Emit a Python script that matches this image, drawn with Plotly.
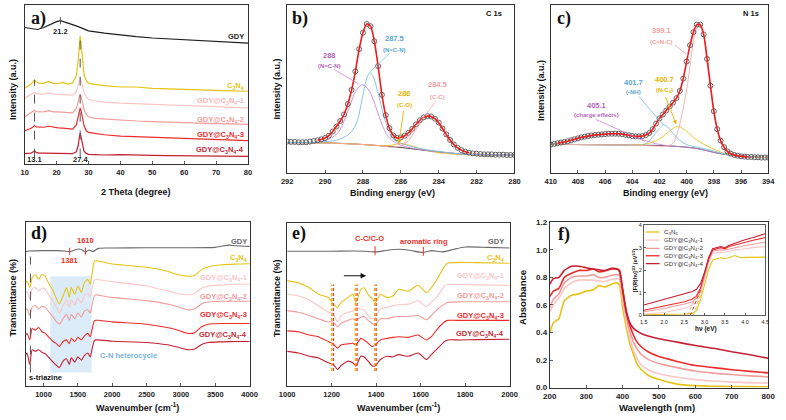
import plotly.graph_objects as go

W, H = 786, 420
FONT = "Liberation Sans, Arial, sans-serif"
SERIF = "Liberation Serif, Times New Roman, serif"

COL_GDY = "#1e1e1e"
COL_GDY2 = "#6a6a6a"
COL_CN = "#e6c417"
COL_1 = "#fbc6c6"
COL_2 = "#f29c9c"
COL_3 = "#ec2c2c"
COL_4 = "#c41f33"
SER_COLS = [COL_CN, COL_1, COL_2, COL_3, COL_4]
SER_NAMES = ["C<sub>3</sub>N<sub>4</sub>", "GDY@C<sub>3</sub>N<sub>4</sub>-1", "GDY@C<sub>3</sub>N<sub>4</sub>-2",
             "GDY@C<sub>3</sub>N<sub>4</sub>-3", "GDY@C<sub>3</sub>N<sub>4</sub>-4"]

# ---------------- (a) XRD ----------------
xrd_gdy_theta = [10, 12, 14, 16, 18, 20, 21.2, 23, 25, 27, 30, 35, 40, 45, 50, 55, 60, 65, 70, 75, 80]
xrd_gdy = [416, 412, 410, 416, 426, 434, 437, 432, 425, 418, 406, 399, 393, 388, 384, 381, 378, 376, 373, 371, 368]
xrd_theta = [10, 11, 12, 12.6, 13.1, 13.6, 14.5, 16, 17.5, 19, 20.5, 22, 23.5, 25, 26.2, 26.8, 27.1, 27.4, 27.7,
             28.1, 28.6, 29.3, 30, 32, 35, 40, 45, 50, 55, 60, 65, 70, 75, 80]
xrd_cn = [230, 236, 243, 250, 256, 250, 246, 245, 251, 245, 244, 248, 243, 246, 268, 318, 365, 390, 368,
          313, 273, 253, 246, 242, 238, 234, 234, 230, 229, 227, 225, 224, 222, 221]
xrd_s1 = [200, 206, 211, 215, 218, 214, 212, 212, 216, 212, 211, 211, 210, 209, 220, 240, 252, 260, 252,
          236, 218, 203, 196, 192, 188, 185, 183, 180, 178, 176, 174, 173, 171, 170]
xrd_s2 = [143, 150, 155, 160, 163, 159, 158, 158, 162, 158, 158, 157, 156, 155, 168, 190, 205, 213, 205,
          188, 166, 150, 143, 138, 136, 132, 130, 128, 126, 125, 123, 122, 121, 120]
xrd_s3 = [100, 103, 108, 112, 116, 112, 111, 111, 114, 111, 109, 108, 107, 105, 118, 143, 160, 170, 160,
          140, 116, 100, 95, 92, 88, 84, 82, 80, 78, 76, 74, 73, 71, 70]
xrd_s4 = [30, 31, 32, 35, 39, 34, 32, 32, 32, 31, 31, 31, 30, 30, 36, 55, 78, 93, 80,
          55, 38, 31, 28, 27, 26, 27, 25, 25, 24, 24, 23, 23, 22, 22]
xrd_peaks = [13.1, 21.2, 27.4]

# ---------------- (b) XPS C 1s ----------------
c1s_E = [292.0, 291.8, 291.6, 291.4, 291.2, 291.0, 290.8, 290.6, 290.4, 290.2, 290.0, 289.8, 289.6, 289.4, 289.2,
         289.0, 288.8, 288.6, 288.4, 288.2, 288.0, 287.8, 287.6, 287.4, 287.2, 287.0, 286.8, 286.6, 286.4, 286.2,
         286.0, 285.8, 285.6, 285.4, 285.2, 285.0, 284.8, 284.6, 284.4, 284.2, 284.0, 283.8, 283.6, 283.4, 283.2,
         283.0, 282.8, 282.6, 282.4, 282.2, 282.0, 281.8, 281.6, 281.4, 281.2, 281.0, 280.8, 280.6, 280.4, 280.2, 280.0]
c1s_I = [97, 96, 96, 95, 95, 95, 97, 99, 101, 104, 108, 115, 128, 143, 160,
         180, 212, 255, 312, 380, 430, 457, 450, 404, 328, 240, 178, 138, 116, 108,
         110, 115, 124, 136, 150, 162, 171, 175, 174, 167, 155, 137, 119, 102, 88,
         78, 71, 66, 63, 61, 60, 59, 58, 58, 58, 57, 57, 57, 56, 56, 56]
c1s_purple_E = [292, 291, 290.2, 289.7, 289.3, 289.0, 288.7, 288.4, 288.1, 287.9, 287.6, 287.3, 287.0, 286.7, 286.4,
                286.0, 285.5, 285, 284, 283, 282, 281, 280]
c1s_purple_I = [94, 94, 97, 107, 125, 160, 205, 250, 270, 268, 245, 200, 150, 115, 98, 86, 78, 73, 66, 60, 57, 56, 56]
c1s_cyan_E = [292, 291, 290.5, 289.5, 289.0, 288.6, 288.3, 288.0, 287.8, 287.64, 287.45, 287.2, 286.9, 286.6, 286.3,
              285.8, 285.0, 284.0, 283.0, 282.0, 281, 280]
c1s_cyan_I = [94, 94, 95, 100, 110, 128, 160, 240, 290, 308, 295, 245, 175, 125, 100, 88, 76, 67, 60, 57, 56, 56]
c1s_yellow_E = [292, 290, 289, 288, 287, 286.6, 286.3, 286.0, 285.7, 285.3, 285.0, 284.5, 284.0, 283.0, 282.0, 280]
c1s_yellow_I = [94, 93, 91, 88, 84, 85, 88, 91, 88, 82, 76, 69, 63, 58, 56, 55]
c1s_pink_E = [292, 290, 288, 287, 286.5, 286.0, 285.6, 285.3, 285.0, 284.7, 284.5, 284.2, 283.9, 283.6, 283.3, 283.0,
              282.5, 282.0, 281, 280]
c1s_pink_I = [94, 93, 88, 84, 80, 84, 100, 125, 153, 169, 173, 165, 142, 113, 90, 76, 65, 60, 57, 56]
c1s_bg_E = [292, 290, 289, 288, 287, 286, 285, 284, 283, 282, 281, 280]
c1s_bg_I = [94, 93, 91, 88, 84, 79, 72, 65, 60, 57, 56, 56]

# ---------------- (c) XPS N 1s ----------------
n1s_E = [410.0, 409.75, 409.5, 409.25, 409.0, 408.75, 408.5, 408.25, 408.0, 407.75, 407.5, 407.25, 407.0, 406.75,
         406.5, 406.25, 406.0, 405.75, 405.5, 405.25, 405.0, 404.75, 404.5, 404.25, 404.0, 403.75, 403.5, 403.25,
         403.0, 402.75, 402.5, 402.25, 402.0, 401.75, 401.5, 401.25, 401.0, 400.75, 400.5, 400.25, 400.0, 399.75,
         399.5, 399.25, 399.0, 398.75, 398.5, 398.25, 398.0, 397.75, 397.5, 397.25, 397.0, 396.75, 396.5, 396.25,
         396.0, 395.75, 395.5, 395.25, 395.0, 394.75, 394.5, 394.25, 394.0]
n1s_I = [88, 90, 92, 94, 96, 98, 101, 104, 107, 110, 112, 114, 116, 117,
         118, 119, 120, 121, 121, 121, 121, 120, 118, 116, 114, 113, 113, 114,
         117, 123, 135, 152, 168, 180, 192, 204, 216, 230, 252, 290, 342, 392,
         432, 455, 455, 425, 350, 268, 190, 135, 100, 80, 67, 60, 56, 54,
         52, 51, 50, 50, 49, 49, 48, 48, 48]
n1s_pink_E = [410, 404, 402, 401.5, 401.0, 400.6, 400.3, 400.0, 399.7, 399.4, 399.1, 398.8, 398.5, 398.2, 397.9,
              397.6, 397.2, 396.8, 396, 395, 394]
n1s_pink_I = [88, 86, 83, 83, 92, 135, 190, 255, 345, 425, 455, 432, 360, 255, 165, 108, 72, 58, 52, 49, 48]
n1s_yellow_E = [410, 406, 404, 403, 402.3, 401.8, 401.3, 400.9, 400.7, 400.4, 400.0, 399.5, 399.0, 398.5, 398.0,
                397.5, 397.0, 396.5, 396.0, 395.0, 394.0]
n1s_yellow_I = [89, 87, 86, 90, 99, 111, 128, 140, 143, 140, 128, 110, 95, 84, 74, 65, 58, 53, 51, 49, 48]
n1s_cyan_E = [410, 406, 404, 403.2, 402.8, 402.4, 402.0, 401.7, 401.4, 401.0, 400.6, 400.2, 399.8, 399.0, 398.0,
              397.0, 396.0, 395.0, 394.0]
n1s_cyan_I = [89, 87, 85, 87, 97, 117, 138, 148, 142, 122, 104, 92, 85, 78, 68, 57, 51, 49, 48]
n1s_purple_E = [410, 409.5, 408.5, 407.5, 406.5, 405.8, 405.1, 404.4, 403.7, 403.0, 402.4, 401.8, 401.0, 400.0,
                399.0, 398.0, 397.0, 396.0, 395.0, 394.0]
n1s_purple_I = [89, 92, 100, 110, 117, 120, 121, 118, 110, 100, 92, 87, 83, 80, 74, 64, 57, 52, 49, 48]
n1s_bg_E = [410, 406, 402, 401, 400, 399, 398, 397.5, 397, 396, 395, 394]
n1s_bg_I = [89, 87, 85, 83, 80, 74, 64, 60, 57, 53, 50, 48]

# ---------------- (d) FTIR full ----------------
ftir_gdy_wn = [740, 800, 1000, 1200, 1300, 1381, 1450, 1520, 1570, 1610, 1660, 1720, 1800, 2000, 2500, 3000,
               3500, 3600, 3700, 3800, 4000]
ftir_gdy = [410, 412, 413, 413, 412, 410, 415, 418, 414, 408, 415, 410, 420, 421, 422, 422, 423, 427, 430, 428, 426]
ftir_wn = [740, 760, 800, 835, 880, 930, 975, 1025, 1070, 1140, 1190, 1230, 1285, 1335, 1375, 1405, 1455, 1500,
           1550, 1595, 1645, 1680, 1705, 1740, 1765, 1800, 2000, 2500, 2800, 2950, 3100, 3200, 3300, 3400, 3600,
           3800, 4000]
ftir_cn = [315, 320, 300, 330, 340, 325, 340, 335, 315, 290, 265, 250, 275, 300, 270, 300, 280, 305, 285, 315,
           325, 310, 340, 380, 382, 381, 372, 362, 350, 340, 335, 337, 355, 364, 370, 372, 373]
ftir_s1 = [285, 288, 265, 295, 300, 290, 298, 295, 280, 258, 238, 222, 245, 262, 240, 262, 248, 268, 252, 275,
           282, 272, 295, 322, 325, 324, 318, 305, 290, 282, 278, 282, 298, 305, 308, 310, 310]
ftir_s2 = [232, 235, 215, 240, 245, 235, 242, 240, 228, 210, 195, 188, 205, 218, 200, 218, 205, 222, 210, 228,
           232, 222, 245, 275, 278, 277, 270, 260, 250, 242, 232, 235, 250, 256, 258, 258, 258]
ftir_s3 = [155, 160, 140, 175, 170, 178, 165, 160, 150, 135, 128, 120, 135, 140, 128, 145, 135, 148, 140, 152,
           160, 150, 170, 198, 200, 200, 195, 188, 178, 170, 160, 162, 180, 188, 190, 190, 190]
ftir_s4 = [95, 100, 65, 110, 105, 110, 102, 98, 88, 72, 62, 55, 75, 82, 65, 85, 72, 88, 78, 92,
           100, 88, 110, 138, 140, 140, 136, 132, 125, 118, 110, 112, 126, 132, 134, 135, 135]
ftir_gdy_bands = [1381, 1610]
triazine_wn = 810
heterocycle_band = [1100, 1700]

# ---------------- (e) FTIR zoom ----------------
zoom_gdy_wn = [1000, 1100, 1200, 1300, 1350, 1400, 1450, 1500, 1550, 1610, 1650, 1700, 1750, 1800, 1900, 2000]
zoom_gdy = [412, 412, 412, 413, 412, 410, 415, 418, 415, 408, 414, 410, 418, 425, 424, 422]
zoom_wn = [1000, 1050, 1100, 1140, 1185, 1207, 1226, 1243, 1273, 1295, 1309, 1331, 1346, 1364, 1383, 1397, 1419,
           1449, 1475, 1501, 1545, 1589, 1626, 1648, 1677, 1707, 1721, 1780, 1850, 2000]
zoom_cn = [322, 315, 300, 280, 270, 250, 240, 255, 270, 280, 255, 295, 300, 280, 265, 255, 280, 270, 275, 295,
           290, 308, 285, 300, 330, 365, 375, 378, 377, 375]
zoom_s1 = [280, 275, 262, 245, 225, 220, 195, 215, 225, 228, 240, 235, 232, 215, 205, 210, 235, 240, 245, 248,
           250, 260, 242, 255, 275, 305, 310, 310, 309, 308]
zoom_s2 = [230, 225, 215, 205, 195, 195, 180, 192, 200, 205, 200, 210, 212, 200, 190, 188, 205, 205, 210, 212,
           212, 215, 202, 215, 235, 250, 255, 257, 257, 257]
zoom_s3 = [168, 165, 155, 150, 135, 128, 115, 125, 128, 130, 125, 145, 140, 130, 120, 125, 140, 145, 148, 150,
           148, 155, 140, 150, 175, 195, 200, 200, 200, 200]
zoom_s4 = [105, 100, 90, 85, 70, 65, 50, 62, 75, 70, 60, 90, 88, 75, 60, 62, 80, 90, 88, 95,
           90, 100, 80, 95, 115, 135, 140, 140, 141, 142]
shift_pairs = [(1200, 1208), (1306, 1314), (1393, 1400)]
zoom_gdy_bands = [1395, 1612]

# ---------------- (f) UV-vis ----------------
uv_wl = [200, 210, 225, 240, 260, 280, 300, 320, 335, 350, 370, 385, 392, 400, 410, 420, 430, 440, 450, 470, 500,
         550, 600, 650, 700, 750, 800]
uv_cn = [0.40, 0.47, 0.50, 0.63, 0.67, 0.68, 0.70, 0.71, 0.74, 0.73, 0.75, 0.76, 0.74, 0.58, 0.44, 0.32, 0.24,
         0.17, 0.135, 0.09, 0.058, 0.025, 0.014, 0.010, 0.008, 0.007, 0.006]
uv_s1 = [0.55, 0.60, 0.65, 0.72, 0.76, 0.78, 0.78, 0.78, 0.775, 0.77, 0.785, 0.79, 0.78, 0.64, 0.48, 0.36, 0.27,
         0.21, 0.17, 0.13, 0.10, 0.075, 0.058, 0.048, 0.040, 0.036, 0.033]
uv_s2 = [0.58, 0.64, 0.68, 0.76, 0.80, 0.81, 0.81, 0.82, 0.80, 0.80, 0.815, 0.82, 0.81, 0.67, 0.52, 0.41, 0.33,
         0.28, 0.245, 0.205, 0.175, 0.145, 0.12, 0.105, 0.095, 0.085, 0.078]
uv_s3 = [0.66, 0.70, 0.72, 0.80, 0.83, 0.85, 0.85, 0.86, 0.84, 0.845, 0.86, 0.86, 0.85, 0.71, 0.55, 0.45, 0.38,
         0.33, 0.30, 0.26, 0.225, 0.19, 0.16, 0.145, 0.13, 0.118, 0.107]
uv_s4 = [0.75, 0.79, 0.80, 0.85, 0.88, 0.88, 0.87, 0.86, 0.855, 0.85, 0.865, 0.86, 0.84, 0.72, 0.56, 0.47, 0.43,
         0.41, 0.395, 0.375, 0.355, 0.33, 0.305, 0.285, 0.26, 0.238, 0.213]

# inset Tauc plot
tauc_hv = [1.5, 2.0, 2.5, 2.7, 2.8, 2.9, 3.0, 3.1, 3.2, 3.3, 3.4, 3.5, 3.6, 3.75, 3.9, 4.0, 4.2, 4.5]
tauc_cn = [0.02, 0.03, 0.05, 0.08, 0.2, 0.7, 1.4, 2.0, 2.45, 2.5, 2.55, 2.52, 2.55, 2.65, 2.55, 2.57, 2.58, 2.58]
tauc_s1 = [0.05, 0.12, 0.3, 0.45, 0.6, 1.0, 1.6, 2.3, 2.75, 2.78, 2.8, 2.8, 2.85, 2.9, 2.92, 2.95, 3.0, 3.05]
tauc_s2 = [0.15, 0.3, 0.5, 0.6, 0.75, 1.1, 1.7, 2.4, 2.85, 2.88, 2.9, 2.9, 2.95, 3.0, 3.05, 3.1, 3.15, 3.25]
tauc_s3 = [0.22, 0.4, 0.6, 0.72, 0.85, 1.2, 1.8, 2.5, 2.9, 2.95, 3.0, 2.95, 3.05, 3.12, 3.2, 3.25, 3.33, 3.45]
tauc_s4 = [0.45, 0.7, 0.95, 1.05, 1.15, 1.4, 1.9, 2.55, 2.95, 3.0, 3.05, 3.0, 3.1, 3.2, 3.3, 3.35, 3.45, 3.62]
tangent_hv = [[2.58, 2.85], [2.65, 2.90], [2.72, 2.95]]
tangent_y = [[0, 1.1], [0, 1.1], [0, 1.1]]
tangent_cols = [COL_2, COL_3, COL_CN]

# ---------------- figure ----------------
fig = go.Figure()


def sfx(i):
    return "" if i == 1 else str(i)


def add_line(i, x, y, color, width=1.2, shape="linear", smoothing=1.0, dash="solid"):
    fig.add_trace(go.Scatter(x=x, y=y, mode="lines",
                             line=dict(color=color, width=width, shape=shape, smoothing=smoothing, dash=dash),
                             xaxis="x" + sfx(i), yaxis="y" + sfx(i), hoverinfo="skip", showlegend=False))


# (a)
add_line(1, xrd_gdy_theta, xrd_gdy, COL_GDY, 1.2)
for ys, c in zip([xrd_cn, xrd_s1, xrd_s2, xrd_s3, xrd_s4], SER_COLS):
    add_line(1, xrd_theta, ys, c, 1.2)

# (b)
for (ex, iy, c) in [(c1s_bg_E, c1s_bg_I, "#2a2a3a"), (c1s_yellow_E, c1s_yellow_I, "#f2c21a"),
                    (c1s_pink_E, c1s_pink_I, "#f7a8a8"), (c1s_purple_E, c1s_purple_I, "#cc88d0"),
                    (c1s_cyan_E, c1s_cyan_I, "#7cc0dc")]:
    add_line(2, ex, iy, c, 0.9, "spline", 0.8)
fig.add_trace(go.Scatter(x=c1s_E, y=c1s_I, mode="markers",
                         marker=dict(symbol="circle-open", size=5, color="#555555", line=dict(width=0.9)),
                         xaxis="x2", yaxis="y2", hoverinfo="skip", showlegend=False))
fitE = [e for e in c1s_E if 282.4 <= e <= 290.4]
fitI = [v for e, v in zip(c1s_E, c1s_I) if 282.4 <= e <= 290.4]
add_line(2, fitE, fitI, "#ee1c1c", 1.6, "spline", 0.8)

# (c)
for (ex, iy, c) in [(n1s_bg_E, n1s_bg_I, "#2a2a3a"), (n1s_purple_E, n1s_purple_I, "#cc88d0"),
                    (n1s_yellow_E, n1s_yellow_I, "#f2c21a"), (n1s_cyan_E, n1s_cyan_I, "#7cc0dc"),
                    (n1s_pink_E, n1s_pink_I, "#f7a8a8")]:
    add_line(3, ex, iy, c, 0.9, "spline", 0.8)
fig.add_trace(go.Scatter(x=n1s_E, y=n1s_I, mode="markers",
                         marker=dict(symbol="circle-open", size=5, color="#555555", line=dict(width=0.9)),
                         xaxis="x3", yaxis="y3", hoverinfo="skip", showlegend=False))
fitE = [e for e in n1s_E if 395.5 <= e <= 409.5]
fitI = [v for e, v in zip(n1s_E, n1s_I) if 395.5 <= e <= 409.5]
add_line(3, fitE, fitI, "#ee1c1c", 1.6, "spline", 0.8)

# (d)
add_line(4, ftir_gdy_wn, ftir_gdy, COL_GDY2, 1.1, "spline", 0.6)
for ys, c in zip([ftir_cn, ftir_s1, ftir_s2, ftir_s3, ftir_s4], SER_COLS):
    add_line(4, ftir_wn, ys, c, 1.1, "spline", 0.6)

# (e)
add_line(5, zoom_gdy_wn, zoom_gdy, COL_GDY2, 1.1, "spline", 0.6)
for ys, c in zip([zoom_cn, zoom_s1, zoom_s2, zoom_s3, zoom_s4], SER_COLS):
    add_line(5, zoom_wn, ys, c, 1.1, "spline", 0.6)

# (f)
for ys, c in zip([uv_cn, uv_s1, uv_s2, uv_s3, uv_s4], SER_COLS):
    add_line(6, uv_wl, ys, c, 1.6, "spline", 0.5)

# inset
for ys, c in zip([tauc_cn, tauc_s1, tauc_s2, tauc_s3, tauc_s4], SER_COLS):
    add_line(7, tauc_hv, ys, c, 1.1)
for tx, ty, c in zip(tangent_hv, tangent_y, tangent_cols):
    add_line(7, tx, ty, c, 1.0, dash="dot")

# ---------------- axes ----------------
boxes = {
    1: ((17, 245), (1, 163)),
    2: ((285, 517), (1, 173)),
    3: ((554, 776), (1, 173)),
    4: ((18, 247), (223, 390)),
    5: ((285, 512), (224, 390)),
    6: ((553, 776), (223, 392)),
    7: ((649, 773), (226, 318)),
}
xranges = {1: [10, 80], 2: [292, 280], 3: [410, 394], 4: [740, 4005], 5: [1000, 2000], 6: [200, 800],
           7: [1.5, 4.5]}
yranges = {1: [0, 485], 2: [0, 515], 3: [0, 515], 4: [0, 500], 5: [0, 498], 6: [0, 1.2], 7: [0, 4]}
xticks = {1: dict(dtick=10, tick0=10), 2: dict(dtick=2, tick0=280), 3: dict(dtick=2, tick0=394),
          4: dict(tickvals=[1000, 1500, 2000, 2500, 3000, 3500, 4000]), 5: dict(dtick=200, tick0=1000),
          6: dict(dtick=100, tick0=200), 7: dict(dtick=0.5, tick0=1.5, tickformat=".1f")}

for i, ((x0, x1), (y0, y1)) in boxes.items():
    small = (i == 7)
    tf = dict(family=FONT, size=5.5 if small else (8 if i == 6 else 7.5), color="#222",
              weight="bold" if not small else "normal")
    common = dict(showline=True, mirror=True, linecolor="#333", linewidth=1 if not small else 0.8,
                  showgrid=False, zeroline=False, fixedrange=True, ticks="inside",
                  ticklen=3 if not small else 2, tickcolor="#333", tickwidth=0.8, tickfont=tf)
    xa = dict(domain=[x0 / W, x1 / W], range=xranges[i], anchor="y" + sfx(i), **common)
    xa.update(xticks[i])
    xa["ticklabelstandoff"] = 1
    ya = dict(domain=[1 - y1 / H, 1 - y0 / H], range=yranges[i], anchor="x" + sfx(i), **common)
    if i in (6, 7):
        ya.update(dtick=0.2 if i == 6 else 1, tick0=0, tickformat=".1f" if i == 6 else "d", showticklabels=True)
    else:
        ya.update(showticklabels=False, ticks="")
    fig.layout["xaxis" + sfx(i)] = xa
    fig.layout["yaxis" + sfx(i)] = ya

# ---------------- annotations ----------------
ann = []
shapes = []


def txt(i, x, y, text, color="#111", size=8, bold=True, xanchor="center", family=FONT, yanchor="middle"):
    ann.append(dict(x=x, y=y, xref="x" + sfx(i), yref="y" + sfx(i), text=text, showarrow=False,
                    xanchor=xanchor, yanchor=yanchor,
                    font=dict(family=family, size=size, color=color, weight="bold" if bold else "normal")))


def ptxt(px, py, text, size=9, angle=0, bold=True, color="#111"):
    ann.append(dict(x=px / W, y=1 - py / H, xref="paper", yref="paper", text=text, showarrow=False,
                    textangle=angle, xanchor="center", yanchor="middle",
                    font=dict(family=FONT, size=size, color=color, weight="bold" if bold else "normal")))


def seg(i, xa, ya, xb, yb, color, dash="solid", width=1.0):
    shapes.append(dict(type="line", xref="x" + sfx(i), yref="y" + sfx(i), x0=xa, y0=ya, x1=xb, y1=yb,
                       line=dict(color=color, width=width, dash=dash), layer="above"))


def arrow(i, xa, ya, xb, yb, color, width=0.9, head=2, size=0.9):
    ann.append(dict(x=xb, y=yb, ax=xa, ay=ya, xref="x" + sfx(i), yref="y" + sfx(i), axref="x" + sfx(i),
                    ayref="y" + sfx(i), text="", showarrow=True, arrowhead=head, arrowsize=size,
                    arrowwidth=width, arrowcolor=color))


# axis titles
ptxt(131, 192, "2 Theta (degree)")
ptxt(392, 193, "Binding energy (eV)")
ptxt(671, 193, "Binding energy (eV)")
ptxt(132, 412, "Wavenumber (cm<sup>-1</sup>)")
ptxt(399, 412, "Wavenumber (cm<sup>-1</sup>)")
ptxt(662, 412, "Wavelength (nm)", size=9.5)
ptxt(5, 87, "Intensity (a.u.)", angle=-90)
ptxt(275, 87, "Intensity (a.u.)", angle=-90)
ptxt(544, 88, "Intensity (a.u.)", angle=-90)
ptxt(5, 300, "Transmittance (%)", angle=-90)
ptxt(274, 300, "Transmittance (%)", angle=-90)
ptxt(525, 300, "Absorbance", angle=-90, size=9.5)
ptxt(712, 332, "hν (eV)", size=6.5)
ptxt(640, 272, "[F(R)hν]<sup>1/2</sup> (eV<sup>1/2</sup>)", size=5.5, angle=-90)

# panel letters
txt(1, 14.4, 443, "a)", size=18, family=SERIF)
txt(2, 291.3, 473, "b)", size=18, family=SERIF)
txt(3, 409.0, 473, "c)", size=18, family=SERIF)
txt(4, 928, 465, "d)", size=18, family=SERIF)
txt(5, 1054, 465, "e)", size=18, family=SERIF)
txt(6, 238, 1.11, "f)", size=18, family=SERIF)

# (a) labels
a_label_y = [388, 238, 191, 133, 88, 41]
for name, c, yv in zip(["GDY"] + SER_NAMES, [COL_GDY] + SER_COLS, a_label_y):
    txt(1, 79.5, yv, name, color=c if c != COL_1 else "#f7b8b8", size=7.5, xanchor="right")
seg(1, xrd_peaks[0], 18, xrd_peaks[0], 256, "#555", "dash", 1.0)
seg(1, xrd_peaks[2], 18, xrd_peaks[2], 390, "#555", "dash", 1.0)
seg(1, xrd_peaks[1], 426, xrd_peaks[1], 448, "#555", "dash", 1.0)
txt(1, xrd_peaks[1], 403, "21.2", color="#222", size=7.5)
txt(1, xrd_peaks[0], 11, "13.1", color="#222", size=7.5)
txt(1, xrd_peaks[2], 11, "27.4", color="#222", size=7.5)

# (b) labels
txt(2, 289.78, 360, "288", color="#b566b8", size=7.5)
txt(2, 289.78, 328, "(N=C-N)", color="#b566b8", size=6)
seg(2, 289.52, 318, 288.23, 273, "#cc88d0", width=0.8)
txt(2, 286.32, 413, "287.5", color="#5aa6cc", size=7.5)
txt(2, 286.32, 378, "(N=C-N)", color="#5aa6cc", size=6)
seg(2, 286.58, 368, 287.67, 308, "#7cc0dc", width=0.8)
txt(2, 285.8, 243, "286", color="#e8b400", size=7.5)
txt(2, 285.8, 208, "(C-O)", color="#e8b400", size=6)
arrow(2, 285.84, 196, 286.11, 90, "#e8b400")
txt(2, 284.07, 273, "284.5", color="#f4a0a0", size=7.5)
txt(2, 284.07, 233, "(C-C)", color="#f4a0a0", size=6)
seg(2, 284.16, 220, 285.97, 82, "#f7a8a8", width=0.8)
txt(2, 280.55, 488, "C 1s", size=7.5, xanchor="right")

# (c) labels
txt(3, 401.84, 438, "399.1", color="#f4a0a0", size=7.5)
txt(3, 401.84, 403, "(C=N-C)", color="#f4a0a0", size=6)
seg(3, 400.89, 393, 399.81, 358, "#f7a8a8", width=0.8)
txt(3, 403.88, 278, "401.7", color="#5aa6cc", size=7.5)
txt(3, 403.88, 248, "(-NH)", color="#5aa6cc", size=6)
seg(3, 403.52, 235, 401.72, 148, "#7cc0dc", width=0.8)
txt(3, 401.6, 288, "400.7", color="#e8b400", size=7.5)
txt(3, 401.6, 253, "(N-C<sub>3</sub>)", color="#e8b400", size=6)
arrow(3, 401.6, 238, 400.77, 150, "#e8b400")
txt(3, 406.64, 208, "405.1", color="#b566b8", size=7.5)
txt(3, 406.64, 178, "(charge effects)", color="#b566b8", size=6)
seg(3, 406.69, 165, 403.09, 98, "#cc88d0", width=0.8)
txt(3, 394.5, 488, "N 1s", size=7.5, xanchor="right")

# (d) labels and marks
shapes.append(dict(type="rect", xref="x4", yref="y4", x0=heterocycle_band[0], x1=heterocycle_band[1], y0=40,
                   y1=335, fillcolor="rgba(190,218,240,0.55)", line=dict(width=0), layer="below"))
d_label_y = [442, 390, 330, 272, 215, 155]
for name, c, yv in zip(["GDY"] + SER_NAMES, [COL_GDY2] + SER_COLS, d_label_y):
    txt(4, 3986, yv, name, color=c, size=7.5, xanchor="right")
seg(4, triazine_wn, 40, triazine_wn, 395, "#555", "dash", 1.0)
for b, yl in zip(ftir_gdy_bands, [382, 445]):
    seg(4, b, 400, b, 422, "#e8302c", "solid", 1.0)
    txt(4, b, yl, str(b), color="#e8302c", size=7.5)
txt(4, 1024, 25, "s-triazine", size=7.5)
txt(4, 2242, 92, "C-N heterocycle", color="#7ab3da", size=7.5)

# (e) labels and marks
e_label_y = [442, 390, 337, 275, 215, 157]
for name, c, yv in zip(["GDY"] + SER_NAMES, [COL_GDY2] + SER_COLS, e_label_y):
    txt(5, 1985, yv, name, color=c, size=7.5, xanchor="right")
for xa_, xb_ in shift_pairs:
    seg(5, xa_, 45, xa_, 310, "#f2b400", "3px,2px", 1.3)
    seg(5, xb_, 45, xb_, 310, "#e8403a", "3px,2px", 1.3)
arrow(5, 1248, 337, 1355, 337, "#111", width=1.1, head=2, size=1.0)
seg(5, zoom_gdy_bands[0], 400, zoom_gdy_bands[0], 430, "#e8302c", "dash", 1.0)
seg(5, zoom_gdy_bands[1], 398, zoom_gdy_bands[1], 428, "#e8302c", "dash", 1.0)
txt(5, 1370, 450, "C-C/C-O", color="#e8302c", size=7.5)
txt(5, 1616, 443, "aromatic ring", color="#e8302c", size=7.5)

# inset legend (within inset frame)
leg_rows = [0.924, 0.834, 0.742, 0.660, 0.573]
for name, c, yy in zip(SER_NAMES, SER_COLS, leg_rows):
    shapes.append(dict(type="line", xref="x7 domain", yref="y7 domain", x0=0.016, x1=0.13, y0=yy, y1=yy,
                       line=dict(color=c, width=1.3)))
    ann.append(dict(x=0.153, y=yy, xref="x7 domain", yref="y7 domain", text=name, showarrow=False,
                    xanchor="left", yanchor="middle", font=dict(family=FONT, size=6.2, color="#333")))

fig.update_layout(width=W, height=H, margin=dict(l=0, r=0, t=0, b=0), paper_bgcolor="white",
                  plot_bgcolor="white", showlegend=False, annotations=ann, shapes=shapes,
                  font=dict(family=FONT))
fig.write_html("out.html", config={"displayModeBar": False, "staticPlot": True},
               post_script="document.body.style.margin='0px';")
